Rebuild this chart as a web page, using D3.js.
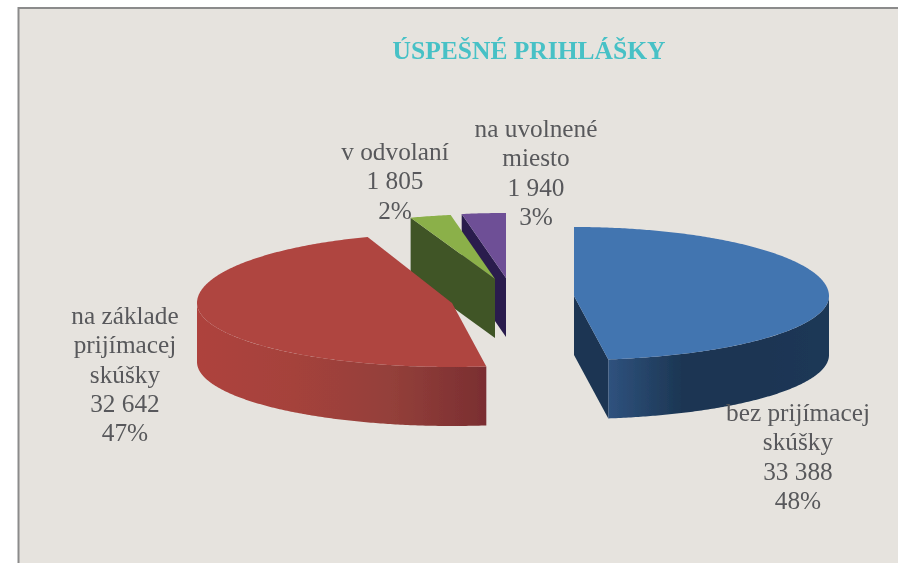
<!DOCTYPE html>
<html>
<head>
<meta charset="utf-8">
<script src="https://cdn.jsdelivr.net/npm/d3@7"></script>
<style>
  html, body { margin: 0; padding: 0; background: #fff; }
  svg { display: block; }
  text { font-family: "Liberation Serif", serif; }
</style>
</head>
<body>
<div id="chart"></div>
<script>
const title = "ÚSPEŠNÉ PRIHLÁŠKY"
const categories = ["bez prijímacej skúšky", "na základe prijímacej skúšky", "v odvolaní", "na uvolnené miesto"]
const values = [33388, 32642, 1805, 1940]
const valueLabels = ["33 388", "32 642", "1 805", "1 940"]
const percentLabels = ["48%", "47%", "2%", "3%"]
const labelLines = [
    ["bez prijímacej", "skúšky"],
    ["na základe", "prijímacej", "skúšky"],
    ["v odvolaní"],
    ["na uvolnené", "miesto"]
]

// layout, per slice: where the exploded apex sits and where its label goes
const apex = [[574, 296], [452, 303], [495, 279], [506, 278]]
const backRadius = [69, 70, 65, 65]
const labelPos = [[798, 421], [125, 324], [395, 160], [536, 137]]
const lineHeight = 29.3

const colors = [
    {top: "#4374b0", wall: "#1b3552", rim: ["#2f527e", "#1c3653", "#1a3452", "#1d3857"]},
    {top: "#af4441", wall: "#7b2f31", rim: ["#ae433e", "#a5423b", "#94403a", "#7a2e31"]},
    {top: "#8bb048", wall: "#3f5426", rim: ["#3f5426", "#3f5426"]},
    {top: "#6e5096", wall: "#2a1f4d", rim: ["#2a1f4d", "#2a1f4d"]}
]

const width = 898, height = 563
const rx = 255, ryFront = 64, depth = 59

const svg = d3.select("#chart").append("svg")
    .attr("width", width)
    .attr("height", height)

svg.append("rect")
    .attr("x", 18).attr("y", 8)
    .attr("width", width - 18).attr("height", height - 8)
    .attr("fill", "#e6e3de")

svg.append("path")
    .attr("d", `M18.5,${height}V8H${width}`)
    .attr("fill", "none")
    .attr("stroke", "#8b8b8b")
    .attr("stroke-width", 2)

// the reference is a soft scan, so everything gets a touch of blur
const defs = svg.append("defs")
defs.append("filter").attr("id", "soft")
    .append("feGaussianBlur").attr("stdDeviation", 0.6)
defs.append("filter").attr("id", "softText")
    .append("feGaussianBlur").attr("stdDeviation", 0.35)

const arcs = d3.pie().sort(null).value(d => d)(values)

// elliptical rim point for a pie angle (0 = north, clockwise), a bit flatter in front
function rimPoint(i, a, drop) {
    const c = apex[i]
    const cos = Math.cos(a)
    return [c[0] + rx * Math.sin(a), c[1] - cos * (cos > 0 ? backRadius[i] : ryFront) + drop]
}

const line = d3.line()

function angles(a0, a1) {
    const n = Math.max(2, Math.ceil((a1 - a0) / 0.01))
    return d3.range(n + 1).map(i => a0 + (a1 - a0) * i / n)
}

// the straight cut face from the apex out to the rim at angle a
function cutFace(g, i, a) {
    const c = apex[i]
    const p = rimPoint(i, a, 0)
    g.append("path")
        .attr("d", line([c, p, [p[0], p[1] + depth], [c[0], c[1] + depth]]) + "Z")
        .attr("fill", colors[i].wall)
}

const pie3d = svg.append("g").attr("filter", "url(#soft)")

// back slices first so the big ones overlap them
const order = [3, 2, 1, 0]

order.forEach(i => {
    const a0 = arcs[i].startAngle
    const a1 = arcs[i].endAngle
    const g = pie3d.append("g").attr("class", "slice")

    if (i === 0) cutFace(g, i, a1)
    if (i > 1) cutFace(g, i, a0)

    // outer rim, front half only
    const r0 = Math.max(a0, Math.PI / 2)
    const r1 = Math.min(a1, Math.PI * 1.5)
    if (r1 > r0) {
        const upper = angles(r0, r1).map(a => rimPoint(i, a, 0))
        const lower = angles(r0, r1).reverse().map(a => rimPoint(i, a, depth))
        const xs = d3.extent(upper, d => d[0])
        const grad = defs.append("linearGradient")
            .attr("id", "rim" + i)
            .attr("gradientUnits", "userSpaceOnUse")
            .attr("x1", xs[0]).attr("x2", xs[1])
            .attr("y1", 0).attr("y2", 0)
        const stops = colors[i].rim
        grad.selectAll("stop").data(stops).enter().append("stop")
            .attr("offset", (d, k) => k / (stops.length - 1))
            .attr("stop-color", d => d)
        g.append("path")
            .attr("d", line(upper.concat(lower)) + "Z")
            .attr("fill", `url(#rim${i})`)
    }

    // top face
    const outline = [apex[i]].concat(angles(a0, a1).map(a => rimPoint(i, a, 0)))
    g.append("path")
        .attr("d", line(outline) + "Z")
        .attr("fill", colors[i].top)
})

const texts = svg.append("g").attr("filter", "url(#softText)")

texts.append("text")
    .attr("x", 529).attr("y", 59)
    .attr("text-anchor", "middle")
    .attr("font-size", 25.5)
    .attr("font-weight", "bold")
    .attr("fill", "#47c1c6")
    .text(title)

categories.forEach((name, i) => {
    const lines = labelLines[i].concat([valueLabels[i], percentLabels[i]])
    const t = texts.append("text")
        .attr("text-anchor", "middle")
        .attr("font-size", 25.3)
        .attr("fill", "#58595b")
    t.selectAll("tspan").data(lines).enter().append("tspan")
        .attr("x", labelPos[i][0])
        .attr("y", (d, k) => labelPos[i][1] + k * lineHeight)
        .text(d => d)
})
</script>
</body>
</html>
